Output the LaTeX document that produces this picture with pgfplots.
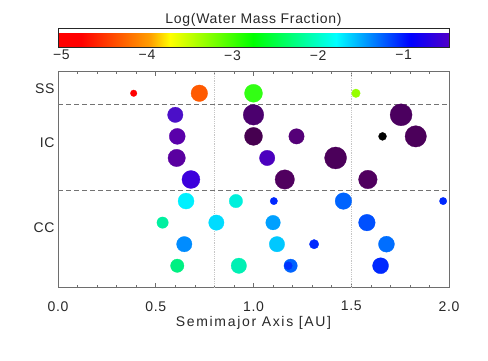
\documentclass[border=0pt]{standalone}
\usepackage{pgfplots}
\usepackage{pgfplotstable}
\usepackage{fontspec}
\pgfplotsset{compat=1.18}
\setmainfont[LetterSpace=5]{Liberation Sans}
\definecolor{txt}{RGB}{40,40,40}
\definecolor{axl}{RGB}{110,110,110}

\pgfplotstableread{
x     y  r     R   G   B
0.387 9  3.3   255 0   0
0.723 9  8.3   255 90  0
1.000 9  9.0   50  255 20
1.524 9  4.3   150 255 0
0.600 8  7.7   75  15  200
1.000 8  10.3  75  0   110
1.755 8  11.0  75  0   95
0.610 7  8.0   90  0   170
1.000 7  9.0   70  0   80
1.220 7  7.7   85  0   120
1.660 7  4.0   0   0   0
1.830 7  10.7  75  0   90
0.607 6  8.7   90  0   160
1.070 6  7.7   75  0   190
1.420 6  11.0  75  0   90
0.680 5  9.0   60  0   220
1.160 5  9.7   80  0   95
1.585 5  9.3   80  0   95
0.655 4  8.0   0   240 255
0.910 4  6.7   0   240 220
1.104 4  3.7   0   40  255
1.460 4  8.3   0   100 255
1.970 4  3.7   0   40  255
0.535 3  5.7   0   240 160
0.810 3  7.7   0   220 255
1.100 3  7.3   0   160 255
1.580 3  8.3   0   80  255
0.646 2  7.7   0   140 255
1.120 2  7.7   0   200 255
1.310 2  4.7   0   40  255
1.680 2  8.0   0   110 255
0.610 1  6.7   0   240 130
0.925 1  7.7   0   240 180
1.190 1  6.7   0   100 255
1.178 1  4.0   0   50  255
1.650 1  8.0   0   40  255
}\planets

\begin{document}
\begin{tikzpicture}
\path[use as bounding box] (0pt,0pt) rectangle (488pt,360pt);
\begin{axis}[
  at={(58pt,72.7pt)}, anchor=south west,
  scale only axis, width=391pt, height=215.6pt,
  font=\fontsize{14}{16.8}\selectfont,
  every tick label/.append style={text=txt},
  every axis label/.append style={text=txt},
  xmin=0, xmax=2, ymin=0, ymax=10,
  xtick={0,0.5,1,1.5,2},
  xticklabels={0.0,0.5,1.0,1.5,2.0},
  minor x tick num=4,
  xtick pos=both, tick align=inside,
  major tick length=4.5pt, minor tick length=2.5pt,
  tick style={axl, line width=0.6pt},
  ytick={2.75,6.69,9.2},
  yticklabels={CC,IC,SS},
  ytick style={draw=none},
  xticklabel style={yshift=-10.5pt},
  axis line style={axl, line width=0.7pt},
  xlabel={\addfontfeatures{LetterSpace=12}Semimajor Axis [AU]},
  xlabel style={yshift=2pt},
  point meta min=-5.04, point meta max=-0.47,
  colormap={wmf}{rgb255(0pt)=(255,0,0) rgb255(27pt)=(255,0,0) rgb255(108pt)=(255,160,0) rgb255(131pt)=(255,255,0) rgb255(228pt)=(0,255,0) rgb255(325pt)=(0,255,255) rgb255(412pt)=(0,0,255) rgb255(457pt)=(80,0,200)},
  colorbar horizontal,
  colorbar style={
    at={(0,1.1113)}, anchor=south west,
    scale only axis, width=391pt, height=19.4pt,
    font=\fontsize{14}{16.8}\selectfont,
    xtick={-5,-4,-3,-2,-1},
    xticklabels={−5,−4,−3,−2,−1},
    xticklabel pos=lower,
    major tick length=0pt,
    xticklabel style={yshift=1pt, text=txt},
    axis line style={black!85, line width=0.9pt},
    title={Log(Water Mass Fraction)},
    title style={yshift=-8pt, text=txt},
  },
]
\addplot[gray!45, densely dotted, line width=0.8pt] coordinates {(0.8,0) (0.8,10)};
\addplot[gray!45, densely dotted, line width=0.8pt] coordinates {(1.5,0) (1.5,10)};
\addplot[black!55, dash pattern=on 5pt off 3pt, line width=0.8pt] coordinates {(0,4.5) (2,4.5)};
\addplot[black!55, dash pattern=on 5pt off 3pt, line width=0.8pt] coordinates {(0,8.5) (2,8.5)};
\addplot[scatter, only marks, mark=*, point meta=\thisrow{y},
  visualization depends on={\thisrow{r}\as\rad},
  visualization depends on={\thisrow{R}/255\as\cR},
  visualization depends on={\thisrow{G}/255\as\cG},
  visualization depends on={\thisrow{B}/255\as\cB},
  scatter/@pre marker code/.append code={\definecolor{mc}{rgb}{\cR,\cG,\cB}\pgfsetfillcolor{mc}\pgfsetstrokecolor{mc}\pgfsetlinewidth{0.3pt}},
  scatter/@pre marker code/.append style={/tikz/mark size=\rad},
] table[x=x, y=y] {\planets};
\end{axis}
\end{tikzpicture}
\end{document}
